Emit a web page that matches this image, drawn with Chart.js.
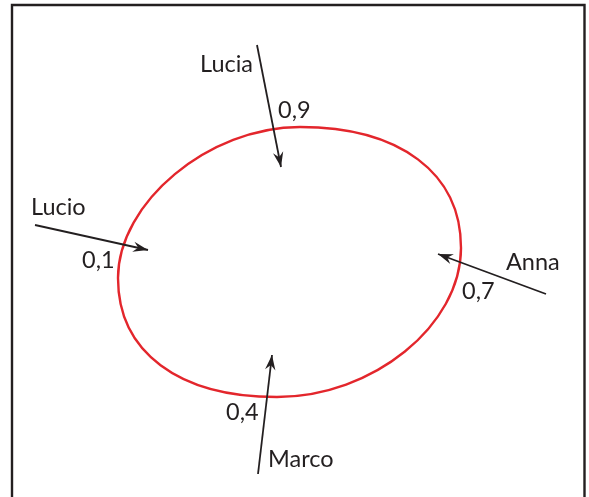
<!DOCTYPE html>
<html lang="it">
<head>
    <meta charset="UTF-8">
    <title>Lucia, Lucio, Anna, Marco</title>
    <script src="https://cdn.jsdelivr.net/npm/chart.js"></script>
    <style>
        html, body { margin: 0; padding: 0; background: #fff; }
    </style>
</head>
<body>
    <canvas id="myChart" width="589" height="497"></canvas>

    <script>
        // persone e probabilita
        const names = ["Lucia", "Lucio", "Anna", "Marco"];
        const probs = [0.9, 0.1, 0.7, 0.4];

        // frecce: da (fromX, fromY) a (toX, toY)
        const fromX = [257, 35, 546, 258];
        const fromY = [45, 225, 294, 474];
        const toX = [281, 148, 438, 272];
        const toY = [167, 250, 254, 355];

        // dove stanno le scritte (angolo sinistro, linea di base)
        const nameX = [200, 31, 506, 268];
        const nameY = [72, 215, 270, 467];
        const probX = [278, 82, 462, 226];
        const probY = [118, 268, 299, 420];

        // ellisse: punti estremi sinistra, alto, destra, basso
        const ovalX = [118, 300, 461, 277];
        const ovalY = [278, 127, 248, 397];

        const ink = "#231f20";
        const red = "#e3262c";

        const datasets = names.map((n, i) => ({
            label: n,
            data: [{x: fromX[i], y: fromY[i]}, {x: toX[i], y: toY[i]}],
            borderColor: ink,
            borderWidth: 1.8,
            pointRadius: 0,
            fill: false
        }));

        const drawPlugin = {
            id: "drawPlugin",
            beforeDatasetsDraw(chart) {
                const {ctx, scales: {x, y}} = chart;
                // cornice
                ctx.save();
                ctx.strokeStyle = ink;
                ctx.lineWidth = 2.4;
                ctx.beginPath();
                ctx.moveTo(12, 497);
                ctx.lineTo(12, 5);
                ctx.lineTo(584.5, 5);
                ctx.lineTo(584.5, 497);
                ctx.stroke();

                // ovale rosso
                const p = ovalX.map((v, i) => [x.getPixelForValue(v), y.getPixelForValue(ovalY[i])]);
                const k = [0.5, 0.62, 0.52, 0.62]; // sin->alto, alto->des, des->basso, basso->sin
                const [L, T, R, B] = p;
                ctx.strokeStyle = red;
                ctx.lineWidth = 2.4;
                ctx.beginPath();
                ctx.moveTo(L[0], L[1]);
                ctx.bezierCurveTo(L[0], L[1] - k[0] * (L[1] - T[1]), T[0] - k[0] * (T[0] - L[0]), T[1], T[0], T[1]);
                ctx.bezierCurveTo(T[0] + k[1] * (R[0] - T[0]), T[1], R[0], R[1] - k[1] * (R[1] - T[1]), R[0], R[1]);
                ctx.bezierCurveTo(R[0], R[1] + k[2] * (B[1] - R[1]), B[0] + k[2] * (R[0] - B[0]), B[1], B[0], B[1]);
                ctx.bezierCurveTo(B[0] - k[3] * (B[0] - L[0]), B[1], L[0], L[1] + k[3] * (B[1] - L[1]), L[0], L[1]);
                ctx.closePath();
                ctx.stroke();
                ctx.restore();
            },
            afterDatasetsDraw(chart) {
                const {ctx, scales: {x, y}} = chart;
                ctx.save();
                // punte delle frecce
                ctx.fillStyle = ink;
                names.forEach((n, i) => {
                    const x0 = x.getPixelForValue(fromX[i]), y0 = y.getPixelForValue(fromY[i]);
                    const x1 = x.getPixelForValue(toX[i]), y1 = y.getPixelForValue(toY[i]);
                    const a = Math.atan2(y1 - y0, x1 - x0);
                    const len = 15, w = 5.2, notch = 10;
                    const dx = Math.cos(a), dy = Math.sin(a);
                    ctx.beginPath();
                    ctx.moveTo(x1, y1);
                    ctx.lineTo(x1 - len * dx - w * dy, y1 - len * dy + w * dx);
                    ctx.lineTo(x1 - notch * dx, y1 - notch * dy);
                    ctx.lineTo(x1 - len * dx + w * dy, y1 - len * dy - w * dx);
                    ctx.closePath();
                    ctx.fill();
                });

                // scritte
                ctx.font = "23.5px Lato";
                ctx.textAlign = "left";
                ctx.textBaseline = "alphabetic";
                names.forEach((n, i) => {
                    ctx.fillText(n, x.getPixelForValue(nameX[i]), y.getPixelForValue(nameY[i]));
                    const t = String(probs[i]).replace(".", ",");
                    ctx.fillText(t, x.getPixelForValue(probX[i]), y.getPixelForValue(probY[i]));
                });
                ctx.restore();
            }
        };

        const ctx = document.getElementById("myChart").getContext("2d");
        const chart = new Chart(ctx, {
            type: "line",
            data: { datasets: datasets },
            options: {
                responsive: false,
                animation: false,
                layout: { padding: 0 },
                plugins: {
                    legend: { display: false },
                    tooltip: { enabled: false }
                },
                scales: {
                    x: { type: "linear", min: 0, max: 589, display: false },
                    y: { type: "linear", min: 0, max: 497, reverse: true, display: false }
                }
            },
            plugins: [drawPlugin]
        });
    </script>
</body>
</html>
